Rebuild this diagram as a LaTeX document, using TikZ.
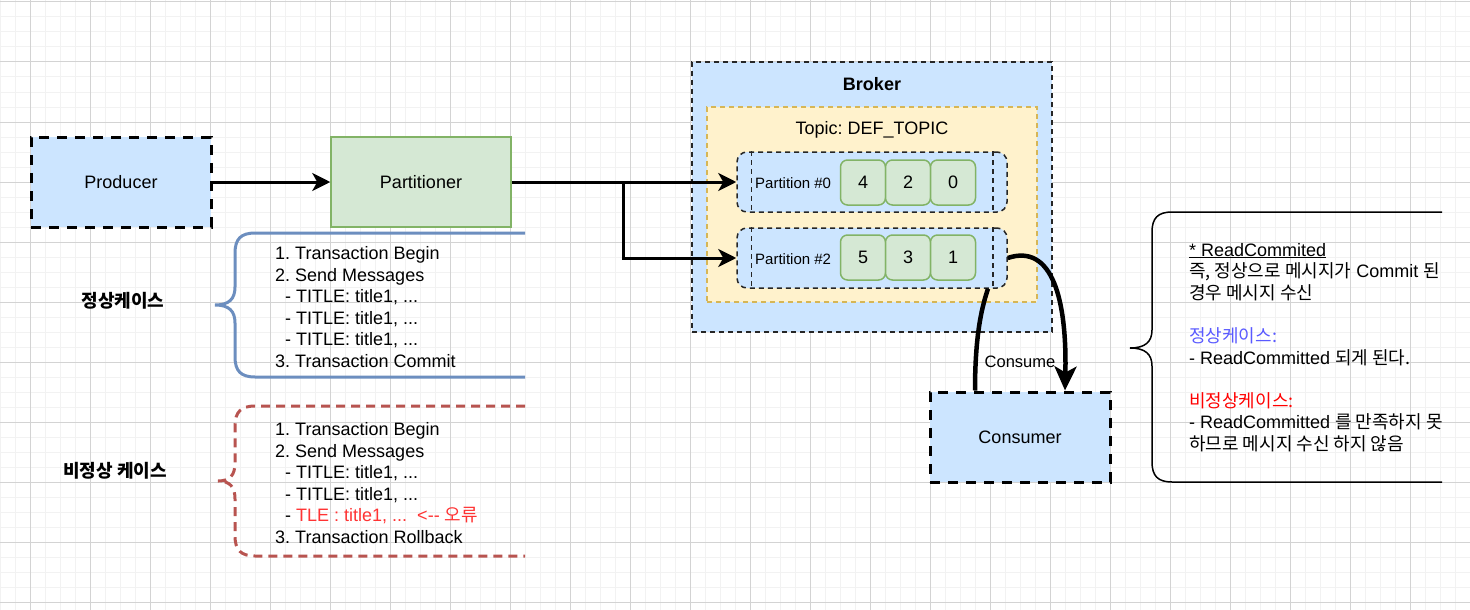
\documentclass[tikz,border=0pt]{standalone}
\usepackage{fontspec}
\setmainfont{Liberation Sans}
\newfontfamily\kr{Noto Sans CJK KR}
\usetikzlibrary{arrows.meta}
\definecolor{gridminor}{HTML}{F2F2F2}
\definecolor{gridmajor}{HTML}{D3D3D3}
\definecolor{bluefill}{HTML}{CCE5FF}
\definecolor{yellowfill}{HTML}{FFF2CC}
\definecolor{yellowline}{HTML}{D6B656}
\definecolor{greenfill}{HTML}{D5E8D4}
\definecolor{greenline}{HTML}{82B366}
\definecolor{bracblue}{HTML}{6C8EBF}
\definecolor{bracred}{HTML}{B85450}
\definecolor{errred}{HTML}{FF3333}
\definecolor{notered}{HTML}{FF0000}
\definecolor{noteblue}{HTML}{5A5AFF}
\frenchspacing
\begin{document}
\begin{tikzpicture}[x=1pt,y=-1pt,
  txt/.style={font=\fontsize{18}{21.6}\selectfont},
  heavybox/.style={draw=black,line width=3pt,dash pattern=on 10pt off 8pt,fill=bluefill,minimum width=180pt,minimum height=90pt,inner sep=0pt,txt},
  greenbox/.style={draw=greenline,line width=1.5pt,fill=greenfill,minimum width=180pt,minimum height=90pt,inner sep=0pt,txt},
  brokerbox/.style={draw=black!85,line width=1.5pt,dash pattern=on 5pt off 4pt,fill=bluefill,minimum width=360pt,minimum height=270pt,inner sep=0pt},
  topicbox/.style={draw=yellowline,line width=1.5pt,dash pattern=on 5pt off 4pt,fill=yellowfill,minimum width=330pt,minimum height=195pt,inner sep=0pt},
  partbox/.style={draw=black!85,line width=1.5pt,dash pattern=on 5pt off 4pt,fill=bluefill,rounded corners=10pt,minimum width=270pt,minimum height=60pt,inner sep=0pt},
  partline/.style={draw=black!85,line width=1.5pt,dash pattern=on 5pt off 4pt},
  cell/.style={draw=greenline,line width=1.5pt,fill=greenfill,rounded corners=7pt,minimum size=45pt,inner sep=0pt,txt},
  plabel/.style={anchor=west,inner sep=0pt,font=\fontsize{15}{18}\selectfont},
  arr/.style={line width=3pt,-{Stealth[length=18pt,width=18pt,inset=5pt]}},
  carr/.style={line width=4.5pt,-{Stealth[length=24pt,width=22pt,inset=6pt]}},
  cline/.style={line width=4.5pt},
  listtxt/.style={txt,anchor=west,align=left,inner sep=0pt}
]
\useasboundingbox (0,0) rectangle (1470,610);
\fill[white] (0,0) rectangle (1470,610);
\foreach \x in {0,15,...,1470} \draw[gridminor,line width=1pt] (\x,0) -- (\x,610);
\foreach \y in {2,17,...,602} \draw[gridminor,line width=1pt] (0,\y) -- (1470,\y);
\foreach \x in {30,90,...,1470} \draw[gridmajor,line width=1pt] (\x,0) -- (\x,610);
\foreach \y in {2,62,...,602} \draw[gridmajor,line width=1pt] (0,\y) -- (1470,\y);

% Broker and topic
\node[brokerbox] (broker) at (872,197) {};
\node[txt,font=\fontsize{18}{21.6}\selectfont\bfseries] (brokerlbl) at (872,84) {Broker};
\node[topicbox] (topic) at (872,204.5) {};
\node[txt] (topiclbl) at (872,130) {Topic: DEF\_TOPIC};

% Partitions
\node[partbox] (p0) at (872,182) {};
\node[partbox] (p2) at (872,258) {};
\draw[partline] ([xshift=15pt]p0.north west) -- ([xshift=15pt]p0.south west);
\draw[partline] ([xshift=-15pt]p0.north east) -- ([xshift=-15pt]p0.south east);
\draw[partline] ([xshift=15pt]p2.north west) -- ([xshift=15pt]p2.south west);
\draw[partline] ([xshift=-15pt]p2.north east) -- ([xshift=-15pt]p2.south east);
\node[plabel] (l0) at (755,183) {Partition \#0};
\node[plabel] (l2) at (755,259) {Partition \#2};
\node[cell] (c4) at (863,182.5) {4};
\node[cell] (c2) at (908,182.5) {2};
\node[cell] (c0) at (953,182.5) {0};
\node[cell] (c5) at (863,257.5) {5};
\node[cell] (c3) at (908,257.5) {3};
\node[cell] (c1) at (953,257.5) {1};

% Producer / Partitioner / Consumer
\node[heavybox] (producer) at (121,182) {Producer};
\node[greenbox] (partitioner) at (421,182) {Partitioner};
\node[heavybox] (consumer) at (1020,437) {Consumer};

% Arrows
\draw[arr] (producer.east) -- (partitioner.west);
\draw[arr] (partitioner.east) -- (p0.west);
\draw[arr] (partitioner.east) -- ++(112,0) |- (p2.west);
\draw[carr] (p2.east) .. controls +(45,-15) and +(2,-90) .. ([xshift=45pt]consumer.north);
\draw[cline] ([xshift=-45pt]consumer.north) .. controls +(0,-60) and +(-5,15) .. ([xshift=116pt]p2.south);
\node[font=\fontsize{16.5}{19}\selectfont] (consumelbl) at (1020,362) {Consume};

% Braces
\draw[bracblue,line width=3pt] (525,233) -- (255,233) .. controls (241,233) and (235,239) .. (235,253) -- (235,287) .. controls (235,299) and (229,305) .. (215,305) .. controls (229,305) and (235,311) .. (235,323) -- (235,357) .. controls (235,371) and (241,377) .. (255,377) -- (525,377);
\draw[bracred,line width=3pt,dash pattern=on 9pt off 6pt] (525,406) -- (255,406) .. controls (241,406) and (235,412) .. (235,426) -- (235,463) .. controls (235,475) and (230,481) .. (218,481) .. controls (230,481) and (235,487) .. (235,499) -- (235,536) .. controls (235,550) and (241,556) .. (255,556) -- (525,556);
\draw[black,line width=1.5pt] (1442,212) -- (1172,212) .. controls (1158,212) and (1152,218) .. (1152,232) -- (1152,330) .. controls (1152,342) and (1145,348) .. (1130,348) .. controls (1145,348) and (1152,354) .. (1152,366) -- (1152,462) .. controls (1152,476) and (1158,482) .. (1172,482) -- (1442,482);

% Labels
\node[txt] (normlbl) at (123,301) {\kr\bfseries 정상케이스};
\node[txt] (abnlbl) at (115,471) {\kr\bfseries 비정상 케이스};

% Lists
\node[listtxt] (normtxt) at (275,307) {1. Transaction Begin\\2. Send Messages\\\hspace*{10pt}- TITLE: title1, ...\\\hspace*{10pt}- TITLE: title1, ...\\\hspace*{10pt}- TITLE: title1, ...\\3. Transaction Commit};
\node[listtxt] (abntxt) at (275,483) {1. Transaction Begin\\2. Send Messages\\\hspace*{10pt}- TITLE: title1, ...\\\hspace*{10pt}- TITLE: title1, ...\\\hspace*{10pt}- \textcolor{errred}{TLE : title1, ...\hspace{10pt}<-{}- {\kr 오류}}\\3. Transaction Rollback};

% Note
\node[listtxt] (note) at (1189,347.5) {\underline{* ReadCommited}\\{\kr 즉, 정상으로 메시지가} Commit {\kr 된}\\{\kr 경우 메시지 수신}\\[21.6pt]\textcolor{noteblue}{\kr 정상케이스:}\\- ReadCommitted {\kr 되게 된다.}\\[21.6pt]\textcolor{notered}{\kr 비정상케이스:}\\- ReadCommitted {\kr 를 만족하지 못}\\{\kr 하므로 메시지 수신 하지 않음}};
\end{tikzpicture}
\end{document}
